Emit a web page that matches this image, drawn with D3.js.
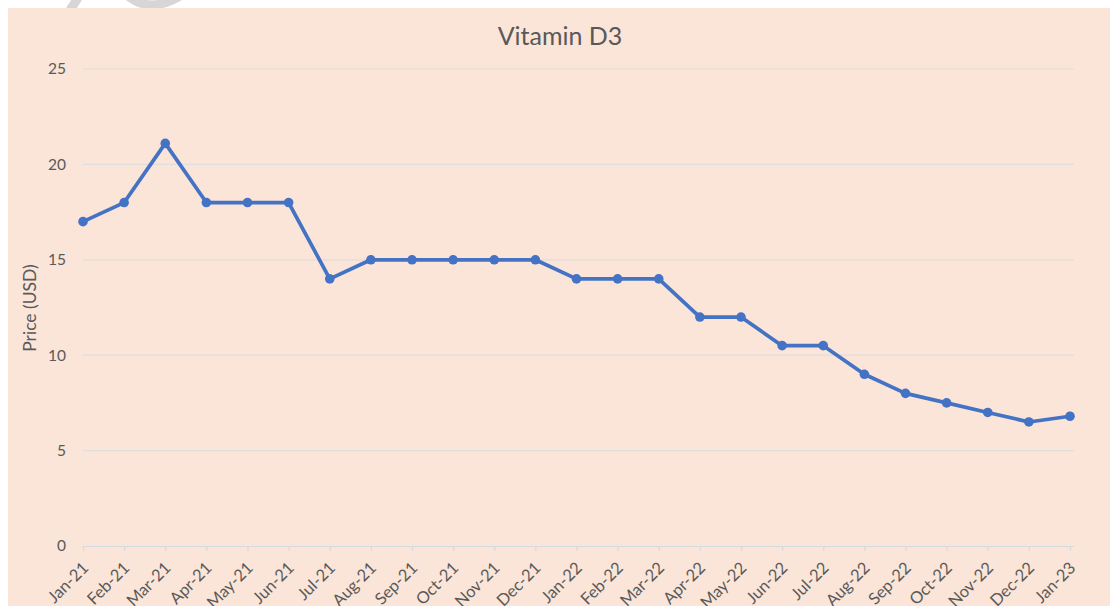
<!DOCTYPE html>
<html>
<head>
<meta charset="utf-8">
<script src="https://cdn.jsdelivr.net/npm/d3@7"></script>
<style>
  html, body { margin: 0; padding: 0; background: #fff; }
  svg { display: block; font-family: Lato, "Open Sans", sans-serif; }
</style>
</head>
<body>
<svg id="chart" width="1110" height="606"></svg>
<script>
const months = ["Jan-21", "Feb-21", "Mar-21", "Apr-21", "May-21", "Jun-21", "Jul-21", "Aug-21",
    "Sep-21", "Oct-21", "Nov-21", "Dec-21", "Jan-22", "Feb-22", "Mar-22", "Apr-22", "May-22",
    "Jun-22", "Jul-22", "Aug-22", "Sep-22", "Oct-22", "Nov-22", "Dec-22", "Jan-23"];
const prices = [17, 18, 21.1, 18, 18, 18, 14, 15, 15, 15, 15, 15, 14, 14, 14, 12, 12,
    10.5, 10.5, 9, 8, 7.5, 7, 6.5, 6.8];
const yTicks = [0, 5, 10, 15, 20, 25];

const svg = d3.select("#chart");
const width = 1110, height = 606;
const textColor = "#595959";

// white strip + faint watermark at the top
svg.append("rect").attr("width", width).attr("height", height).attr("fill", "#fff");
const wm = svg.append("g").attr("stroke", "#d6d6d6").attr("stroke-width", 9).attr("fill", "none");
wm.append("line").attr("x1", 78).attr("y1", -2).attr("x2", 70).attr("y2", 10);
wm.append("path").attr("d", "M128,-4 Q150,14 180,-4");

// chart background
svg.append("rect").attr("x", 8).attr("y", 8).attr("width", width - 8).attr("height", height - 8)
    .attr("fill", "#fae5d8");

const x = d3.scalePoint().domain(months).range([83, 1070]);
const y = d3.scaleLinear().domain([0, 25]).range([546, 69]);

// grid lines
svg.append("g")
    .selectAll("line")
    .data(yTicks.filter(d => d > 0))
    .join("line")
    .attr("x1", 83).attr("x2", 1074)
    .attr("y1", d => y(d)).attr("y2", d => y(d))
    .attr("stroke", "#dedede").attr("stroke-width", 1.2);

// y labels
svg.append("g")
    .selectAll("text")
    .data(yTicks)
    .join("text")
    .attr("x", 66).attr("y", d => y(d))
    .attr("dy", "0.35em")
    .attr("text-anchor", "end")
    .style("font-size", "15.5px")
    .attr("fill", textColor)
    .text(d => d);

// x axis
const xAxis = svg.append("g")
    .attr("transform", `translate(0,${y(0)})`)
    .call(d3.axisBottom(x).tickSize(5).tickSizeOuter(0));
xAxis.select(".domain").attr("stroke", "#d5dbe3").attr("stroke-width", 1.2)
    .attr("d", `M83,0.5H1074`);
xAxis.selectAll(".tick line").attr("stroke", "#d5dbe3").attr("stroke-width", 1.2);
xAxis.selectAll(".tick text")
    .attr("fill", textColor)
    .style("font-size", "16.5px")
    .style("font-family", "Lato, 'Open Sans', sans-serif")
    .attr("text-anchor", "end")
    .attr("y", 0)
    .attr("dy", 0)
    .attr("transform", "translate(6,23) rotate(-45)");

// line + markers
svg.append("path")
    .datum(prices)
    .attr("fill", "none")
    .attr("stroke", "#4472c4")
    .attr("stroke-width", 3.7)
    .attr("stroke-linejoin", "round")
    .attr("d", d3.line().x((d, i) => x(months[i])).y(d => y(d)));

svg.append("g")
    .selectAll("circle")
    .data(prices)
    .join("circle")
    .attr("cx", (d, i) => x(months[i]))
    .attr("cy", d => y(d))
    .attr("r", 4.8)
    .attr("fill", "#4472c4");

// title
svg.append("text")
    .attr("x", 560).attr("y", 45)
    .attr("text-anchor", "middle")
    .style("font-size", "25px")
    .attr("fill", textColor)
    .text("Vitamin D3");

// y axis title
svg.append("text")
    .attr("transform", `translate(36,308) rotate(-90)`)
    .attr("text-anchor", "middle")
    .style("font-size", "17.5px")
    .attr("fill", textColor)
    .text("Price (USD)");
</script>
</body>
</html>
